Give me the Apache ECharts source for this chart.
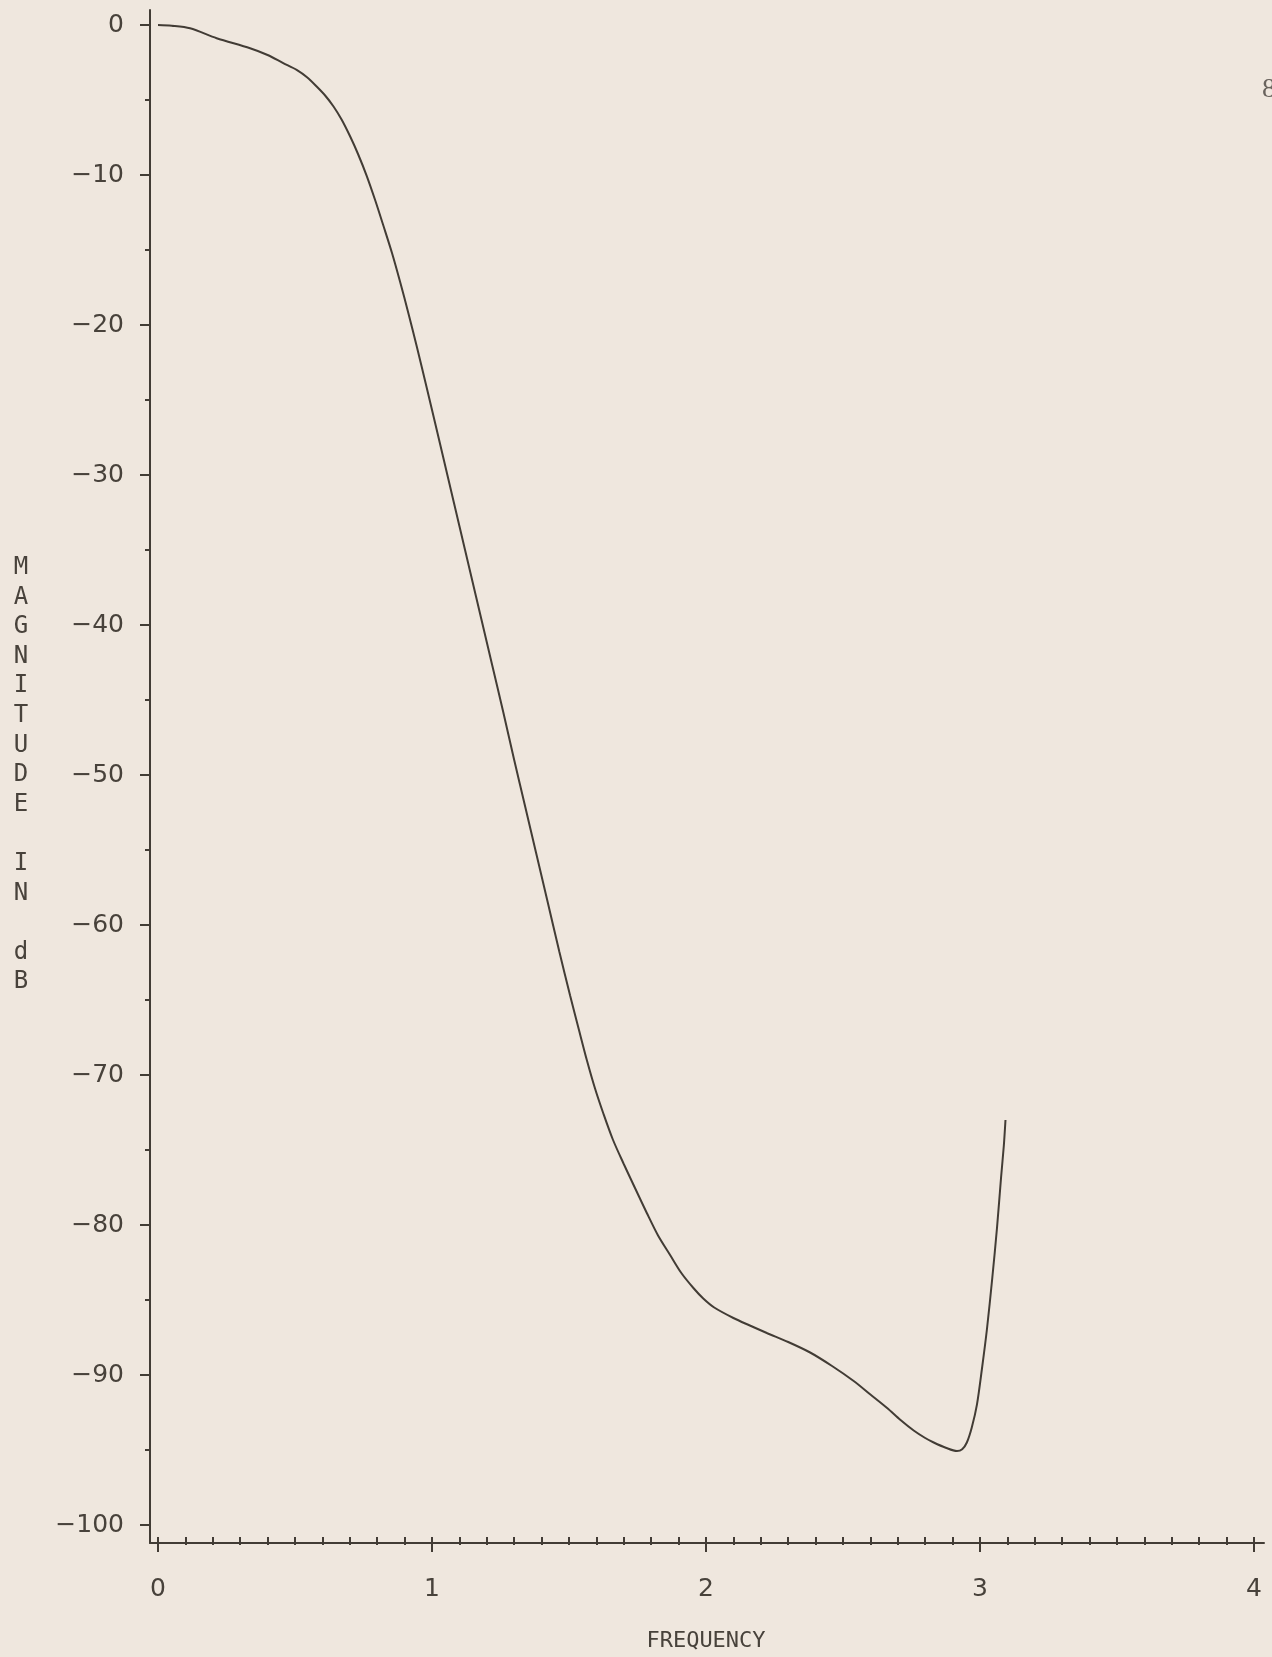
<!DOCTYPE html>
<html>
<head>
<meta charset="utf-8">
<script src="https://cdn.jsdelivr.net/npm/echarts@6/dist/echarts.min.js"></script>
<style>
html,body{margin:0;padding:0;background:#efe7de;}
#chart{width:1272px;height:1657px;}
</style>
</head>
<body>
<div id="chart"></div>
<script>
// ---- data ----
const freq = [
  0.00, 0.05, 0.117, 0.214, 0.336, 0.40, 0.457, 0.506, 0.545, 0.579,
  0.610, 0.640, 0.670, 0.701, 0.730, 0.762, 0.793, 0.823, 0.854, 0.884,
  0.915, 0.944, 0.981, 1.020, 1.060, 1.100, 1.140, 1.180, 1.220, 1.260,
  1.300, 1.340, 1.380, 1.420, 1.465, 1.504, 1.535, 1.565, 1.595, 1.626,
  1.660, 1.699, 1.740, 1.784, 1.825, 1.869, 1.910, 1.954, 1.990, 2.030,
  2.100, 2.160, 2.222, 2.300, 2.380, 2.460, 2.539, 2.600, 2.661, 2.710,
  2.758, 2.800, 2.831, 2.875, 2.916, 2.935, 2.952, 2.970, 2.989, 3.007,
  3.025, 3.045, 3.062, 3.077, 3.087, 3.093
];
const magnitudeDb = [
  0.0, -0.05, -0.22, -0.88, -1.55, -2.0, -2.54, -2.99, -3.5, -4.1,
  -4.7, -5.42, -6.3, -7.42, -8.6, -10.07, -11.7, -13.4, -15.2, -17.15,
  -19.3, -21.4, -24.2, -27.2, -30.3, -33.4, -36.5, -39.6, -42.7, -45.8,
  -49.0, -52.1, -55.2, -58.3, -61.8, -64.7, -66.9, -69.0, -70.9, -72.6,
  -74.3, -75.9, -77.5, -79.2, -80.7, -82.0, -83.2, -84.2, -84.9, -85.5,
  -86.2, -86.7, -87.2, -87.8, -88.5, -89.4, -90.4, -91.3, -92.2, -93.0,
  -93.7, -94.2, -94.5, -94.85, -95.07, -94.95, -94.5, -93.5, -91.96, -89.6,
  -87.0, -83.5, -80.2, -76.8, -74.7, -73.0
];
const xTickValues = [0, 1, 2, 3, 4];
const yTickValues = [0, -10, -20, -30, -40, -50, -60, -70, -80, -90, -100];
const xAxisTitle = 'FREQUENCY';
const yAxisTitleLetters = ['M','A','G','N','I','T','U','D','E','','I','N','','d','B'];
const pageNumber = '8';

// ---- styling ----
const INK = '#423c35';
const TEXT = '#48423b';
const FONT = '"DejaVu Sans", sans-serif';
const MONO = '"DejaVu Sans Mono", monospace';

const chart = echarts.init(document.getElementById('chart'), null, {renderer: 'canvas'});
const seriesData = freq.map((f, i) => [f, magnitudeDb[i]]);
const minusLabel = v => String(v).replace('-', '\u2212');

chart.setOption({
  backgroundColor: '#efe7de',
  animation: false,
  grid: [
    {left: 158, right: 18, top: 25, bottom: 126},
    {left: 150, right: 8, top: 10, bottom: 114}
  ],
  xAxis: [
    {
      type: 'value', gridIndex: 0,
      min: xTickValues[0], max: xTickValues[xTickValues.length - 1], interval: 1,
      offset: 12,
      axisLine: {show: false, onZero: false},
      axisTick: {show: true, length: 15, lineStyle: {color: INK, width: 2}},
      minorTick: {show: true, splitNumber: 10, length: 8, lineStyle: {color: INK, width: 2}},
      splitLine: {show: false},
      axisLabel: {margin: 40, color: TEXT, fontSize: 25, fontFamily: FONT},
      name: xAxisTitle, nameLocation: 'middle', nameGap: 93,
      nameTextStyle: {color: TEXT, fontSize: 22, fontFamily: MONO}
    },
    {
      type: 'value', gridIndex: 1, min: 0, max: 1,
      axisLine: {show: true, onZero: false, lineStyle: {color: INK, width: 2}},
      axisTick: {show: false}, axisLabel: {show: false}, splitLine: {show: false}
    }
  ],
  yAxis: [
    {
      type: 'value', gridIndex: 0,
      min: yTickValues[yTickValues.length - 1], max: yTickValues[0], interval: 10,
      offset: 8,
      axisLine: {show: false, onZero: false},
      axisTick: {show: true, length: 10, lineStyle: {color: INK, width: 2}},
      minorTick: {show: true, splitNumber: 2, length: 5, lineStyle: {color: INK, width: 2}},
      splitLine: {show: false},
      axisLabel: {margin: 26, color: TEXT, fontSize: 25, fontFamily: FONT, formatter: minusLabel},
      name: yAxisTitleLetters.join('\n'), nameLocation: 'middle', nameRotate: 0, nameGap: 129,
      nameTextStyle: {color: TEXT, fontSize: 24, fontFamily: MONO, lineHeight: 29.6,
                      align: 'center', verticalAlign: 'middle'}
    },
    {
      type: 'value', gridIndex: 1, min: 0, max: 1,
      axisLine: {show: true, onZero: false, lineStyle: {color: INK, width: 2}},
      axisTick: {show: false}, axisLabel: {show: false}, splitLine: {show: false}
    }
  ],
  graphic: [
    {type: 'text', x: 1262, y: 90,
     style: {text: pageNumber, fill: '#69635d', font: '28px "Liberation Serif", serif',
             verticalAlign: 'middle'}}
  ],
  series: [
    {
      type: 'line', xAxisIndex: 0, yAxisIndex: 0,
      data: seriesData, showSymbol: false, smooth: 0.3,
      lineStyle: {color: INK, width: 2},
      clip: false
    }
  ]
});
</script>
</body>
</html>
